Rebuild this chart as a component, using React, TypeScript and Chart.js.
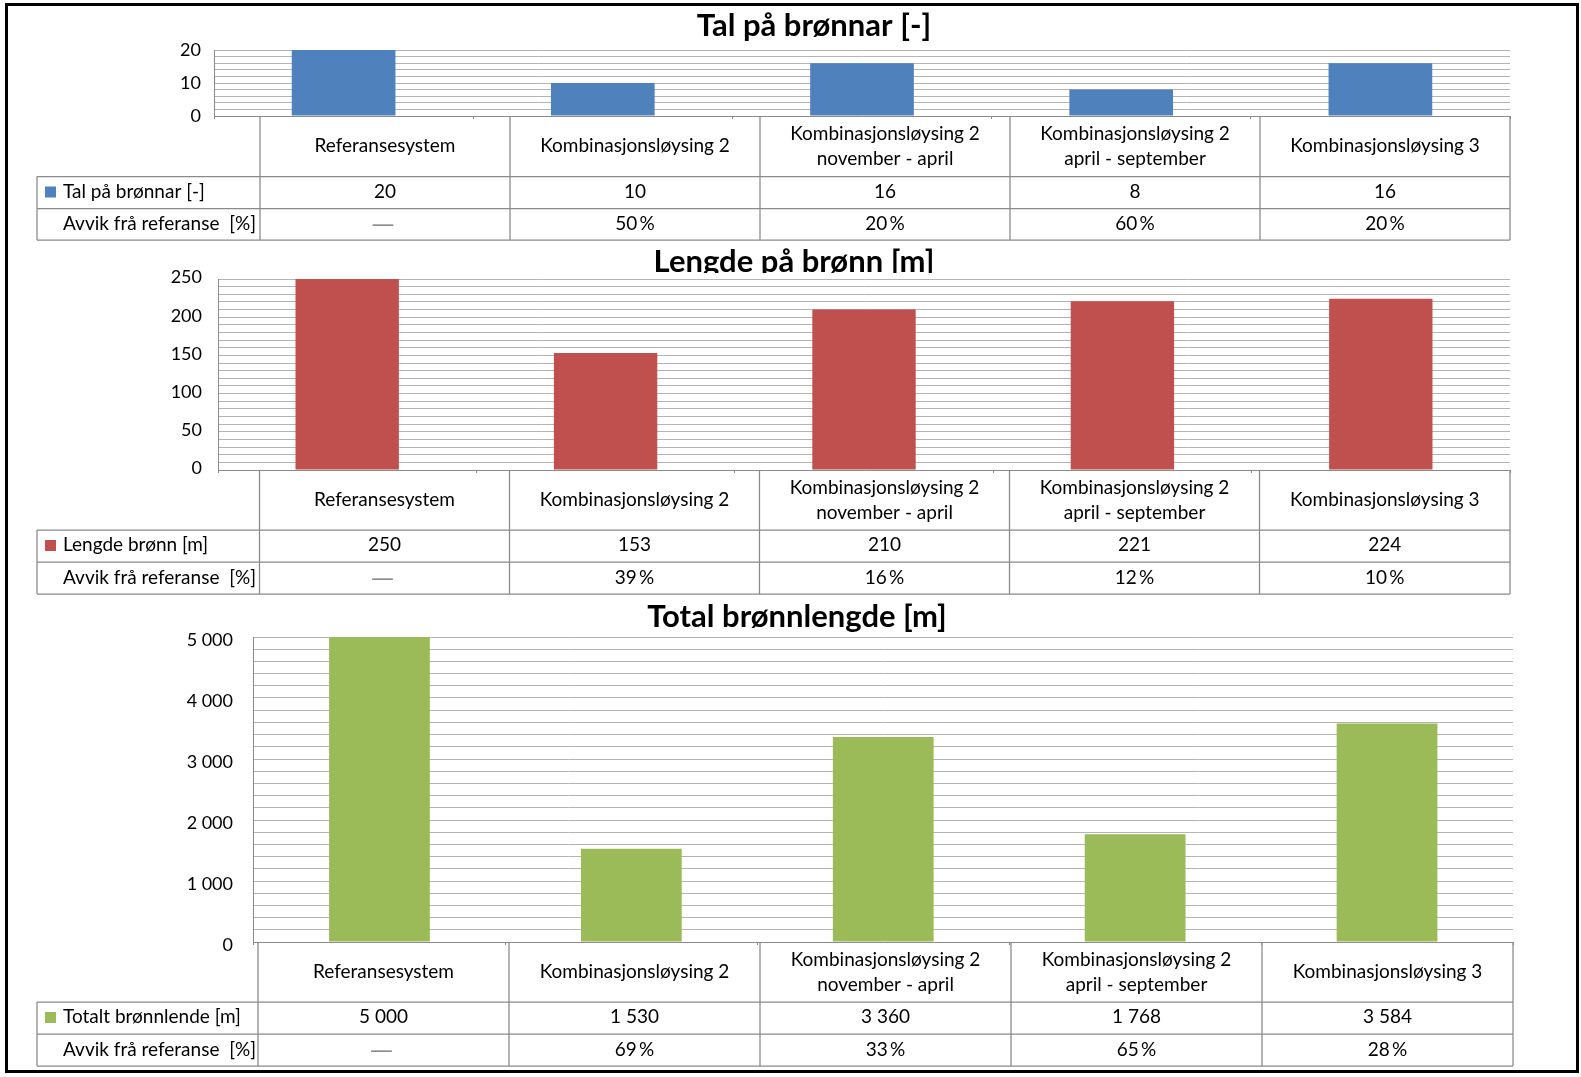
import React, { useEffect, useRef } from 'react';
import { Chart, registerables } from 'chart.js';

Chart.register(...registerables);

const FONT = 'Lato, "Open Sans", "DejaVu Sans", sans-serif';
const PAGE_W = 1581;

// ---------- data ----------
const categories: string[][] = [
  ['Referansesystem'],
  ['Kombinasjonsløysing 2'],
  ['Kombinasjonsløysing 2', 'november - april'],
  ['Kombinasjonsløysing 2', 'april - september'],
  ['Kombinasjonsløysing 3'],
];

const wellCount = [20, 10, 16, 8, 16];
const wellCountDeviation: (number | null)[] = [null, 50, 20, 60, 20];

const wellLength = [250, 153, 210, 221, 224];
const wellLengthDeviation: (number | null)[] = [null, 39, 16, 12, 10];

const totalLength = [5000, 1530, 3360, 1768, 3584];
const totalLengthDeviation: (number | null)[] = [null, 69, 33, 65, 28];

const countTickLabels = [0, 10, 20];
const lengthTickLabels = [0, 50, 100, 150, 200, 250];
const totalTickLabels = [0, 1000, 2000, 3000, 4000, 5000];

const countAxis = [0, 20, 2]; // min, max, minor grid step
const lengthAxis = [0, 250, 10];
const totalAxis = [0, 5000, 200];

const deviationLabel = 'Avvik frå referanse  [%]';

// ---------- helpers ----------
const fmt = (v: number) => String(v).replace(/\B(?=(\d{3})+(?!\d))/g, ' ');
const fmtPct = (v: number | null) => (v == null ? '—' : `${v}\u2009%`);

type Panel = {
  bandTop: number;
  bandHeight: number;
  title: string;
  titleX: number;
  titleY: number;
  coverTop?: number;
  plot: { left: number; right: number; top: number; bottom: number };
  labelRight: number;
  labelShift: number;
  labelLeft: number;
  cols: number[];
  rows: number[];
  seriesLabel: string;
  values: number[];
  deviation: (number | null)[];
  color: string;
  axis: number[];
  tickLabels: number[];
};

const panels: Panel[] = [
  {
    bandTop: 0,
    bandHeight: 243,
    title: 'Tal på brønnar [-]',
    titleX: 814,
    titleY: 35.5,
    plot: { left: 214, right: 1510, top: 50, bottom: 116 },
    labelRight: 201,
    labelShift: 0,
    labelLeft: 37,
    cols: [260, 510, 760, 1010, 1260, 1510],
    rows: [116, 176.5, 208.5, 240],
    seriesLabel: 'Tal på brønnar [-]',
    values: wellCount,
    deviation: wellCountDeviation,
    color: '#4F81BD',
    axis: countAxis,
    tickLabels: countTickLabels,
  },
  {
    bandTop: 243,
    bandHeight: 354,
    title: 'Lengde på brønn [m]',
    titleX: 794,
    titleY: 272,
    coverTop: 273,
    plot: { left: 218, right: 1510, top: 279, bottom: 470 },
    labelRight: 202,
    labelShift: -1.5,
    labelLeft: 37,
    cols: [259.5, 509.5, 759.5, 1009.5, 1259.5, 1510],
    rows: [470, 530, 562, 594],
    seriesLabel: 'Lengde brønn [m]',
    values: wellLength,
    deviation: wellLengthDeviation,
    color: '#C0504D',
    axis: lengthAxis,
    tickLabels: lengthTickLabels,
  },
  {
    bandTop: 597,
    bandHeight: 480,
    title: 'Total brønnlengde [m]',
    titleX: 797,
    titleY: 627,
    plot: { left: 253.5, right: 1513, top: 637, bottom: 942 },
    labelRight: 233,
    labelShift: 3,
    labelLeft: 37,
    cols: [258, 509, 760, 1011, 1262, 1513],
    rows: [942, 1002, 1034, 1066],
    seriesLabel: 'Totalt brønnlende [m]',
    values: totalLength,
    deviation: totalLengthDeviation,
    color: '#9BBB59',
    axis: totalAxis,
    tickLabels: totalTickLabels,
  },
];

function makeSheetPlugin(p: Panel) {
  const o = p.bandTop;
  return {
    id: 'sheetTable',
    beforeDraw(chart: any) {
      const ctx = chart.ctx as CanvasRenderingContext2D;
      ctx.save();
      ctx.font = `bold 31px ${FONT}`;
      ctx.fillStyle = '#000';
      ctx.textAlign = 'center';
      ctx.textBaseline = 'alphabetic';
      ctx.fillText(p.title, p.titleX, p.titleY - o);
      if (p.coverTop != null) {
        const a = chart.chartArea;
        ctx.fillStyle = '#fff';
        ctx.fillRect(a.left, p.coverTop - o, a.right - a.left, a.bottom - (p.coverTop - o));
      }
      ctx.restore();
    },
    afterDraw(chart: any) {
      const ctx = chart.ctx as CanvasRenderingContext2D;
      const cols = p.cols;
      const rows = p.rows.map((r) => r - o);
      const last = cols[cols.length - 1];
      ctx.save();
      ctx.strokeStyle = '#8a8a8a';
      ctx.lineWidth = 1.25;
      ctx.beginPath();
      for (const x of cols) {
        ctx.moveTo(x, rows[0]);
        ctx.lineTo(x, rows[3]);
      }
      ctx.moveTo(p.labelLeft, rows[1]);
      ctx.lineTo(p.labelLeft, rows[3]);
      for (let i = 1; i < 4; i++) {
        ctx.moveTo(p.labelLeft, rows[i]);
        ctx.lineTo(last, rows[i]);
      }
      ctx.stroke();

      ctx.font = `19px ${FONT}`;
      ctx.fillStyle = '#000';
      ctx.textBaseline = 'middle';
      ctx.textAlign = 'center';
      const headerMid = (rows[0] + rows[1]) / 2;
      const r1 = (rows[1] + rows[2]) / 2;
      const r2 = (rows[2] + rows[3]) / 2;
      categories.forEach((lines, i) => {
        const cx = (cols[i] + cols[i + 1]) / 2;
        lines.forEach((ln, k) => {
          ctx.fillText(ln, cx, headerMid + (k - (lines.length - 1) / 2) * 25);
        });
        ctx.fillText(fmt(p.values[i]), cx, r1 - 1);
        const d = p.deviation[i];
        if (d == null) {
          ctx.save();
          ctx.fillStyle = '#8c8c8c';
          ctx.font = `23px "DejaVu Sans", ${FONT}`;
          ctx.fillText(fmtPct(d), cx - 2, r2 + 2);
          ctx.restore();
        } else {
          ctx.fillText(fmtPct(d), cx, r2);
        }
      });
      ctx.textAlign = 'left';
      ctx.fillStyle = p.color;
      ctx.fillRect(p.labelLeft + 8, r1 - 6, 11, 11);
      ctx.fillStyle = '#000';
      ctx.fillText(p.seriesLabel, p.labelLeft + 26, r1 - 1);
      ctx.fillText(deviationLabel, p.labelLeft + 26, r2);
      ctx.restore();
    },
  };
}

function PanelChart({ p }: { p: Panel }) {
  const ref = useRef<HTMLCanvasElement>(null);
  useEffect(() => {
    const canvas = ref.current!;
    const [min, max, step] = p.axis;
    const chart = new Chart(canvas, {
      type: 'bar',
      data: {
        labels: categories.map((c) => c.join(' ')),
        datasets: [
          {
            label: p.seriesLabel,
            data: p.values,
            backgroundColor: p.color,
            borderWidth: 0,
            categoryPercentage: 1,
            barPercentage: 0.4,
          },
        ],
      },
      options: {
        animation: false,
        responsive: false,
        maintainAspectRatio: false,
        devicePixelRatio: 1,
        events: [],
        layout: {
          padding: {
            left: 0,
            top: p.plot.top - p.bandTop,
            right: PAGE_W - p.plot.right,
            bottom: p.bandTop + p.bandHeight - p.plot.bottom,
          },
        },
        plugins: {
          legend: { display: false },
          tooltip: { enabled: false },
          title: { display: false },
        },
        scales: {
          x: {
            type: 'category',
            offset: true,
            ticks: { display: false },
            grid: {
              display: true,
              offset: true,
              drawOnChartArea: false,
              drawTicks: true,
              tickLength: 3,
              color: '#8a8a8a',
              lineWidth: 1,
            },
            border: { display: true, color: '#8a8a8a', width: 1 },
            afterFit: (s: any) => {
              s.height = 0;
            },
          },
          y: {
            type: 'linear',
            min,
            max,
            afterFit: (s: any) => {
              s.width = p.plot.left;
            },
            afterBuildTicks: (s: any) => {
              const t: { value: number }[] = [];
              for (let v = min; v <= max + 1e-9; v += step) t.push({ value: v });
              s.ticks = t;
            },
            ticks: {
              autoSkip: false,
              padding: p.plot.left - p.labelRight,
              labelOffset: p.labelShift,
              color: '#000',
              font: { family: FONT, size: 18 },
              callback: (v: any) => (p.tickLabels.includes(Number(v)) ? fmt(Number(v)) : ''),
            },
            grid: { color: '#b4b4b4', lineWidth: 1, drawTicks: false },
            border: { display: true, color: '#8a8a8a', width: 1 },
          },
        },
      },
      plugins: [makeSheetPlugin(p) as any],
    });
    return () => chart.destroy();
  }, [p]);
  return (
    <canvas
      ref={ref}
      width={PAGE_W}
      height={p.bandHeight}
      style={{ position: 'absolute', left: 0, top: p.bandTop, width: PAGE_W, height: p.bandHeight, display: 'block' }}
    />
  );
}

export default function App() {
  return (
    <div style={{ position: 'absolute', left: 0, top: 0, width: PAGE_W, height: 1077, background: '#fff', overflow: 'hidden' }}>
      {panels.map((p, i) => (
        <PanelChart key={i} p={p} />
      ))}
      <div
        style={{
          position: 'absolute',
          left: 5,
          top: 3,
          width: 1574,
          height: 1070,
          border: '3px solid #000',
          boxSizing: 'border-box',
          pointerEvents: 'none',
        }}
      />
    </div>
  );
}
